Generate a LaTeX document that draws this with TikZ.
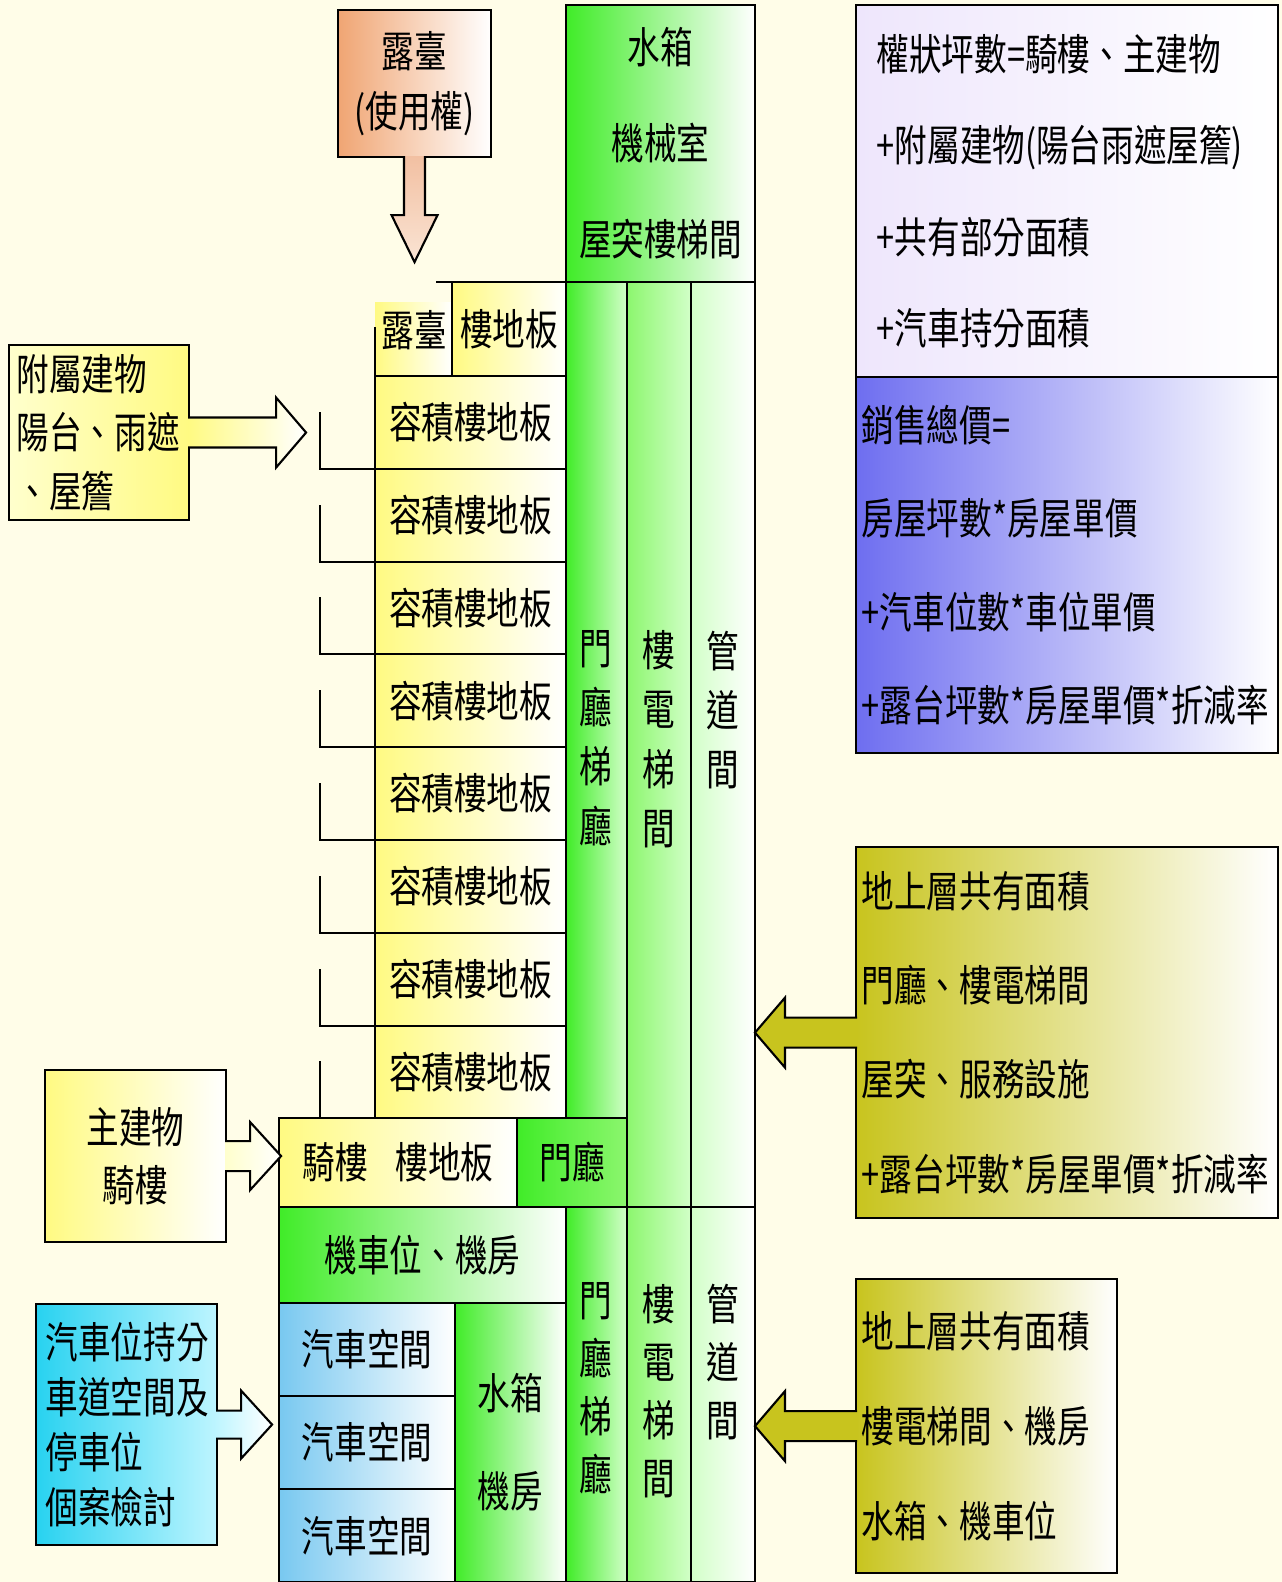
\documentclass[tikz,border=0pt]{standalone}
\usepackage{fontspec}
\newfontfamily\cjk[FakeStretch=0.76]{Noto Sans CJK TC}
\usetikzlibrary{positioning}

\definecolor{bgc}{RGB}{255,253,232}
\definecolor{grnA}{RGB}{64,236,40}
\definecolor{grnB}{RGB}{140,246,110}
\definecolor{grnC}{RGB}{210,255,200}
\definecolor{yelA}{RGB}{255,250,130}
\definecolor{yelB}{RGB}{255,255,205}
\definecolor{orgA}{RGB}{240,165,115}
\definecolor{peachA}{RGB}{242,192,162}
\definecolor{peachB}{RGB}{250,228,212}
\definecolor{lavA}{RGB}{238,230,252}
\definecolor{bluA}{RGB}{110,110,240}
\definecolor{oliA}{RGB}{200,196,30}
\definecolor{cyaA}{RGB}{40,210,240}
\definecolor{cyaB}{RGB}{190,245,255}
\definecolor{skyA}{RGB}{120,200,240}

\begin{document}
\begin{tikzpicture}[x=0.01cm, y=-0.01cm,
  every node/.style={font=\cjk\fontsize{12.2pt}{15pt}\selectfont},
  lsp/.style={font=\cjk\fontsize{12.2pt}{#1}\selectfont},
  cell/.style={draw, line width=0.6pt, anchor=north west, inner sep=0pt, outer sep=0pt},
  sz/.style 2 args={minimum width=#1cm, minimum height=#2cm},
  txt/.style={anchor=west, align=left, inner sep=0pt},
  vtxt/.style={align=center, inner sep=0pt, lsp=16.9pt},
  yel/.style={left color=yelA, right color=white},
  grn/.style={left color=grnA, right color=white},
  blockarr/.style={draw, line width=0.6pt}]

  \useasboundingbox (0,0) rectangle (1282,1582);
  \fill[bgc] (0,0) rectangle (1282,1582);

  % roof and terrace
  \node[cell, left color=orgA, right color=white, sz={1.53}{1.47}, align=center, lsp=17pt] (tbox) at (338,10) {露臺\\(使用權)};
  \node[cell, grn, sz={1.89}{2.77}, align=center, lsp=27.3pt] (roof) at (566,5) {水箱\\機械室\\屋突樓梯間};

  \node[cell, draw=none, yel, sz={0.77}{0.74}] (tcell) at (375,302) {};
  \node (tcellt) at (414,330) {露臺};
  \node[cell, yel, sz={1.14}{0.94}] (slab0) at (452,282) {樓地板};

  % floors
  \node[cell, yel, sz={1.91}{0.9275}] (f1) at (375,376) {容積樓地板};
  \foreach \i [evaluate=\i as \j using int(\i+1)] in {1,...,7}
    \node[cell, yel, sz={1.91}{0.9275}, below=0pt of f\i] (f\j) {容積樓地板};

  \draw[line width=0.6pt] (slab0.north west) -- ++(-16,0);
  \draw[line width=0.6pt] (f1.north west) -- ++(0,-49);
  \foreach \i in {1,...,8}
    \draw[line width=0.6pt] (f\i.south west) -- ++(-55,0) -- ++(0,-57);

  % core columns above ground
  \node[cell, left color=grnA, right color=grnC, sz={0.61}{8.36}] (hallA) at (566,282) {};
  \node[cell, left color=grnB, right color=grnC, sz={0.64}{9.25}] (liftA) at (hallA.north east) {};
  \node[cell, left color=grnC, right color=white, sz={0.64}{9.25}] (ductA) at (liftA.north east) {};
  \node[vtxt] (hallAt) at (596,738) {門\\廳\\梯\\廳};
  \node[vtxt] (liftAt) at (659,739) {樓\\電\\梯\\間};
  \node[vtxt] (ductAt) at (723,710) {管\\道\\間};

  % ground floor
  \node[cell, yel, sz={2.38}{0.89}] (arcade) at (279,1118) {騎樓\hspace{0.28cm}樓地板};
  \node[cell, left color=grnA, right color=grnB, sz={1.10}{0.89}] (lobby) at (arcade.north east) {門廳};

  % basement
  \node[cell, grn, sz={2.87}{0.96}] (moto) at (279,1207) {機車位、機房};
  \node[cell, left color=grnA, right color=grnC, sz={0.61}{3.75}] (hallB) at (566,1207) {};
  \node[cell, left color=grnB, right color=grnC, sz={0.64}{3.75}] (liftB) at (hallB.north east) {};
  \node[cell, left color=grnC, right color=white, sz={0.64}{3.75}] (ductB) at (liftB.north east) {};
  \node[vtxt, lsp=16.5pt] (hallBt) at (596,1388) {門\\廳\\梯\\廳};
  \node[vtxt, lsp=16.5pt] (liftBt) at (659,1391) {樓\\電\\梯\\間};
  \node[vtxt, lsp=16.5pt] (ductBt) at (723,1362) {管\\道\\間};

  \node[cell, left color=skyA, right color=white, sz={1.76}{0.93}] (car1) at (279,1303) {汽車空間};
  \node[cell, left color=skyA, right color=white, sz={1.76}{0.93}, below=0pt of car1] (car2) {汽車空間};
  \node[cell, left color=skyA, right color=white, sz={1.76}{0.93}, below=0pt of car2] (car3) {汽車空間};
  \node[cell, grn, sz={1.11}{2.79}, align=center, lsp=27.9pt] (tank) at (455,1303) {水箱\\機房};

  % notes on the right
  \node[cell, left color=lavA, right color=white, sz={4.22}{3.72}] (own) at (856,5) {};
  \node[txt, lsp=26pt] (ownt) at ([xshift=0.2cm]own.west)
    {權狀坪數=騎樓、主建物\\+附屬建物(陽台雨遮屋簷)\\+共有部分面積\\+汽車持分面積};
  \node[cell, left color=bluA, right color=white, sz={4.22}{3.76}] (price) at (856,377) {};
  \node[txt, lsp=26.5pt] (pricet) at ([xshift=0.05cm]price.west)
    {銷售總價=\\房屋坪數*房屋單價\\+汽車位數*車位單價\\+露台坪數*房屋單價*折減率};
  \node[cell, left color=oliA, right color=white, sz={4.22}{3.71}] (common1) at (856,847) {};
  \node[txt, lsp=26.8pt] (common1t) at ([xshift=0.05cm]common1.west)
    {地上層共有面積\\門廳、樓電梯間\\屋突、服務設施\\+露台坪數*房屋單價*折減率};
  \node[cell, left color=oliA, right color=white, sz={2.61}{2.94}] (common2) at (856,1279) {};
  \node[txt, lsp=27pt] (common2t) at ([xshift=0.05cm]common2.west)
    {地上層共有面積\\樓電梯間、機房\\水箱、機車位};

  % notes on the left
  \node[cell, left color=yelB, right color=yelA, sz={1.80}{1.75}] (annex) at (9,345) {};
  \node[txt, lsp=16.7pt] (annext) at ([xshift=0.07cm]annex.west) {附屬建物\\陽台、雨遮\\、屋簷};
  \node[cell, yel, sz={1.81}{1.72}, align=center, lsp=16.5pt] (mainb) at (45,1070) {主建物\\騎樓};
  \node[cell, left color=cyaA, right color=cyaB, sz={1.81}{2.41}] (carshare) at (36,1304) {};
  \node[txt, lsp=15.6pt] (carsharet) at ([xshift=0.09cm]carshare.west) {汽車位持分\\車道空間及\\停車位\\個案檢討};

  % block arrows
  \shade[blockarr, top color=peachA, bottom color=peachB]
    (tbox.south) ++(-10.5,-1) -- ++(0,59) -- ++(-12.5,0) -- ++(23,47) -- ++(23,-47) -- ++(-12.5,0) -- ++(0,-59);
  \shade[blockarr, left color=yelA, right color=white]
    (annex.east) ++(-1,-15) -- ++(88,0) -- ++(0,-20) -- ++(30,35) -- ++(-30,35) -- ++(0,-20) -- ++(-88,0);
  \shade[blockarr, left color=yelB, right color=white]
    (mainb.east) ++(-1,-15) -- ++(25,0) -- ++(0,-19) -- ++(31,34) -- ++(-31,34) -- ++(0,-19) -- ++(-25,0);
  \shade[blockarr, left color=cyaB, right color=white]
    (carshare.east) ++(-1,-14) -- ++(25,0) -- ++(0,-20) -- ++(31,34) -- ++(-31,34) -- ++(0,-20) -- ++(-25,0);
  \fill[oliA] (common1.west) ++(1,-15) -- ++(-72,0) -- ++(0,-20) -- ++(-30,35) -- ++(30,35) -- ++(0,-20) -- ++(72,0);
  \draw[blockarr] (common1.west) ++(1,-15) -- ++(-72,0) -- ++(0,-20) -- ++(-30,35) -- ++(30,35) -- ++(0,-20) -- ++(72,0);
  \fill[oliA] (common2.west) ++(1,-15) -- ++(-72,0) -- ++(0,-20) -- ++(-30,35) -- ++(30,35) -- ++(0,-20) -- ++(72,0);
  \draw[blockarr] (common2.west) ++(1,-15) -- ++(-72,0) -- ++(0,-20) -- ++(-30,35) -- ++(30,35) -- ++(0,-20) -- ++(72,0);
\end{tikzpicture}
\end{document}
